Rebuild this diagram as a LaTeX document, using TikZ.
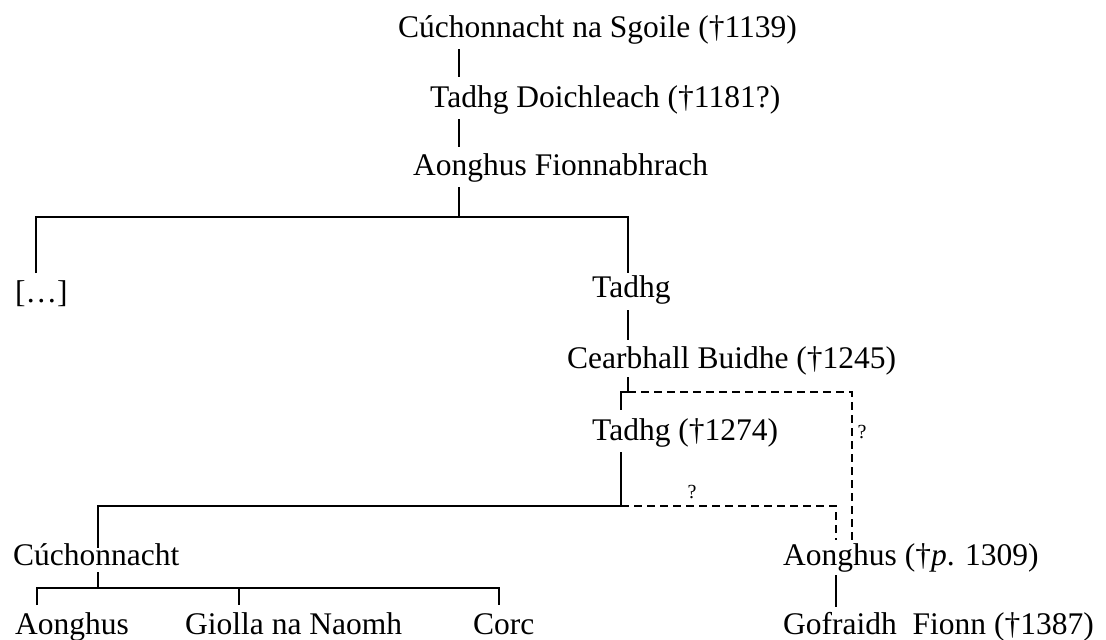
\documentclass[tikz,border=0pt]{standalone}
\usepackage{fontspec}
\setmainfont{Liberation Serif}
\begin{document}
\begin{tikzpicture}[x=1pt,y=-1pt,
  lbl/.style={inner sep=0pt, anchor=base west, font=\fontsize{31.5}{36}\selectfont},
  qm/.style={inner sep=0pt, font=\fontsize{20}{24}\selectfont},
  tree/.style={line width=1.6pt},
  uncertain/.style={line width=1.6pt, dash pattern=on 8pt off 5pt}]
\useasboundingbox (0,0) rectangle (1106,640);
% names
\node[lbl] (cns) at (398,37) {Cúchonnacht na Sgoile (†1139)};
\node[lbl] (tdo) at (430,107) {Tadhg Doichleach (†1181?)};
\node[lbl] (afi) at (413,175) {Aonghus Fionnabhrach};
\node[lbl] (unk) at (15,302) {[\ldots]};
\node[lbl] (tad) at (592,297) {Tadhg};
\node[lbl] (cbu) at (567,368) {Cearbhall Buidhe (†1245)};
\node[lbl] (t74) at (592,440) {Tadhg (†1274)};
\node[lbl] (cuc) at (13,565) {Cúchonnacht};
\node[lbl] (a09) at (783,565) {Aonghus (†\textit{p}. 1309)};
\node[lbl] (aon) at (15,634) {Aonghus};
\node[lbl] (gnn) at (185,634) {Giolla na Naomh};
\node[lbl] (cor) at (473,634) {Corc};
\node[lbl] (gof) at (783,634) {Gofraidh\ \ Fionn (†1387)};
% junctions
\coordinate (cnsB) at (459,49);
\coordinate (tdoT) at (459,77);
\coordinate (tdoB) at (459,119);
\coordinate (afiT) at (459,147);
\coordinate (afiB) at (459,187);
\coordinate (j1) at (459,217);
\coordinate (j1l) at (36,217);
\coordinate (j1r) at (628,217);
\coordinate (unkT) at (36,273);
\coordinate (tadT) at (628,273);
\coordinate (tadB) at (628,310);
\coordinate (cbuT) at (628,340);
\coordinate (cbuB) at (628,377);
\coordinate (j2) at (628,392);
\coordinate (j2l) at (621,392);
\coordinate (t74T) at (621,410);
\coordinate (j2r) at (852,392);
\coordinate (a09Ta) at (852,540);
\coordinate (t74B) at (621,452);
\coordinate (j3) at (621,506);
\coordinate (j3l) at (98,506);
\coordinate (j3r) at (836,506);
\coordinate (a09Tb) at (836,540);
\coordinate (cucT) at (98,548);
\coordinate (cucB) at (98,572);
\coordinate (j4) at (98,588);
\coordinate (j4l) at (37,588);
\coordinate (j4m) at (239,588);
\coordinate (j4r) at (499,588);
\coordinate (aonT) at (37,605);
\coordinate (gnnT) at (239,605);
\coordinate (corT) at (499,605);
\coordinate (a09B) at (836,575);
\coordinate (gofT) at (836,607);
% solid lines
\draw[tree] (cnsB) -- (tdoT);
\draw[tree] (tdoB) -- (afiT);
\draw[tree] (afiB) -- (j1);
\draw[tree] (unkT) -- (j1l) -- (j1r) -- (tadT);
\draw[tree] (tadB) -- (cbuT);
\draw[tree] (cbuB) -- (j2) -- (j2l) -- (t74T);
\draw[tree] (t74B) -- (j3) -- (j3l) -- (cucT);
\draw[tree] (cucB) -- (j4);
\draw[tree] (aonT) -- (j4l) -- (j4r) -- (corT);
\draw[tree] (j4m) -- (gnnT);
\draw[tree] (a09B) -- (gofT);
% uncertain lines
\draw[uncertain] (j2) -- (j2r) -- (a09Ta);
\draw[uncertain] (j3) -- (j3r) -- (a09Tb);
\node[qm] (q1) at (862,432) {?};
\node[qm] (q2) at (692,492) {?};
\end{tikzpicture}
\end{document}
